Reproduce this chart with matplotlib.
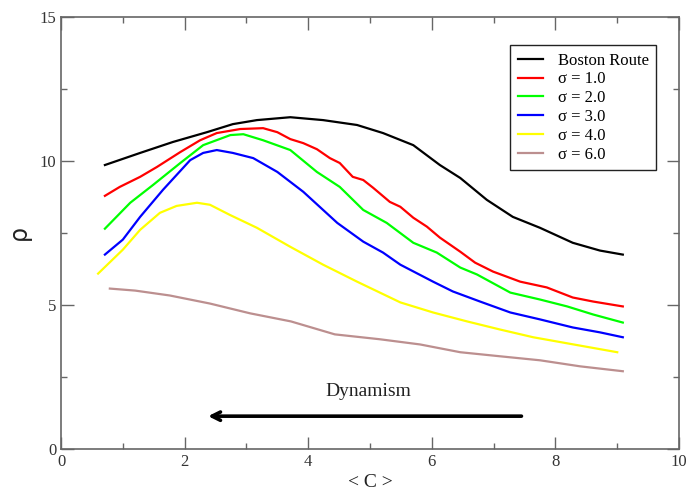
import matplotlib
matplotlib.use("Agg")
import matplotlib.pyplot as plt
from matplotlib.ticker import MultipleLocator

plt.rcParams['font.family'] = ['Liberation Serif', 'DejaVu Serif']

# Boston Route
x_boston = [0.71, 1.28, 1.81, 2.36, 2.78, 3.17, 3.71, 4.24, 4.79, 5.21, 5.70, 6.13,
            6.46, 6.89, 7.31, 7.75, 8.28, 8.72, 9.09]
y_boston = [9.86, 10.28, 10.66, 11.00, 11.28, 11.42, 11.52, 11.42, 11.25, 10.97, 10.55, 9.86,
            9.41, 8.65, 8.06, 7.68, 7.16, 6.89, 6.75]

# sigma = 1.0
x_s1 = [0.71, 0.95, 1.28, 1.55, 1.93, 2.25, 2.52, 2.90, 3.27, 3.50, 3.71, 3.92, 4.14,
        4.35, 4.51, 4.72, 4.89, 5.05, 5.32, 5.49, 5.70, 5.92, 6.13, 6.46, 6.70, 6.99,
        7.43, 7.86, 8.28, 8.61, 9.09]
y_s1 = [8.79, 9.10, 9.45, 9.79, 10.31, 10.72, 10.97, 11.11, 11.14, 11.00, 10.76, 10.62, 10.41,
        10.10, 9.93, 9.45, 9.34, 9.07, 8.58, 8.41, 8.03, 7.72, 7.34, 6.85, 6.47, 6.16,
        5.81, 5.61, 5.26, 5.12, 4.95]

# sigma = 2.0
x_s2 = [0.71, 1.12, 1.49, 1.93, 2.30, 2.74, 2.95, 3.27, 3.71, 4.14, 4.51, 4.89, 5.27,
        5.70, 6.08, 6.46, 6.73, 7.27, 7.75, 8.19, 8.61, 9.09]
y_s2 = [7.65, 8.55, 9.17, 9.93, 10.55, 10.90, 10.93, 10.72, 10.38, 9.62, 9.10, 8.30, 7.85,
        7.16, 6.82, 6.30, 6.06, 5.43, 5.19, 4.95, 4.67, 4.39]

# sigma = 3.0
x_s3 = [0.71, 1.00, 1.28, 1.65, 2.09, 2.30, 2.52, 2.78, 3.11, 3.50, 3.92, 4.47, 4.89,
        5.21, 5.49, 6.02, 6.34, 6.78, 7.27, 7.75, 8.28, 8.72, 9.09]
y_s3 = [6.75, 7.27, 8.06, 9.00, 10.03, 10.28, 10.38, 10.28, 10.10, 9.62, 8.93, 7.85, 7.20,
        6.82, 6.40, 5.81, 5.47, 5.12, 4.74, 4.50, 4.22, 4.05, 3.88]

# sigma = 4.0
x_s4 = [0.60, 1.00, 1.28, 1.60, 1.87, 2.20, 2.41, 2.73, 3.17, 3.71, 4.24, 4.79, 5.49,
        6.02, 6.57, 7.10, 7.64, 8.45, 9.00]
y_s4 = [6.09, 6.92, 7.61, 8.20, 8.44, 8.55, 8.48, 8.13, 7.68, 7.02, 6.40, 5.81, 5.09,
        4.74, 4.43, 4.15, 3.88, 3.57, 3.36]

# sigma = 6.0
x_s6 = [0.79, 1.20, 1.76, 2.41, 3.06, 3.72, 4.43, 5.16, 5.81, 6.46, 7.10, 7.75, 8.40, 9.09]
y_s6 = [5.57, 5.50, 5.33, 5.05, 4.71, 4.43, 3.98, 3.81, 3.63, 3.36, 3.22, 3.08, 2.87, 2.70]

series = [
    (x_boston, y_boston, 'Boston Route', 'black'),
    (x_s1, y_s1, 'σ = 1.0', '#ff0000'),
    (x_s2, y_s2, 'σ = 2.0', '#00ff00'),
    (x_s3, y_s3, 'σ = 3.0', '#0000ff'),
    (x_s4, y_s4, 'σ = 4.0', '#ffff00'),
    (x_s6, y_s6, 'σ = 6.0', '#bc8f8f'),
]

fig = plt.figure(figsize=(6.88, 4.94), dpi=100)
ax = fig.add_axes([0.0887, 0.0911, 0.8983, 0.8745])

for xs, ys, lab, col in series:
    ax.plot(xs, ys, color=col, lw=1.6, label=lab)

ax.set_xlim(0, 10)
ax.set_ylim(0, 15)
ax.xaxis.set_major_locator(MultipleLocator(2))
ax.xaxis.set_minor_locator(MultipleLocator(1))
ax.yaxis.set_major_locator(MultipleLocator(5))
ax.yaxis.set_minor_locator(MultipleLocator(2.5))
ax.tick_params(which='both', direction='in', top=True, right=True,
               color='#666666', labelcolor='#333333', labelsize=12)
ax.tick_params(which='major', length=9, width=1)
ax.tick_params(which='minor', length=4.5, width=1)
for sp in ax.spines.values():
    sp.set_color('#666666')
    sp.set_linewidth(1.2)

ax.set_xlabel('< C >', fontsize=14, color='#222222', labelpad=3)
ax.set_ylabel('ρ', fontsize=17, color='#222222', labelpad=6,
              family=['DejaVu Sans'])

leg = ax.legend(loc='upper right', bbox_to_anchor=(0.963, 0.935), fontsize=12,
                frameon=True, fancybox=False, framealpha=1, edgecolor='#222222',
                handlelength=1.5, handletextpad=0.9, labelspacing=0.17,
                borderpad=0.45, borderaxespad=0)
leg.get_frame().set_linewidth(1.0)

ax.text(4.97, 2.0, 'Dynamism', fontsize=14, ha='center', va='center', color='#222222')
ax.annotate('', xy=(2.38, 1.14), xytext=(7.45, 1.14),
            arrowprops=dict(arrowstyle='->', lw=2.6, color='black',
                            mutation_scale=15, shrinkA=0, shrinkB=0))

fig.savefig('out.png', dpi=100)
